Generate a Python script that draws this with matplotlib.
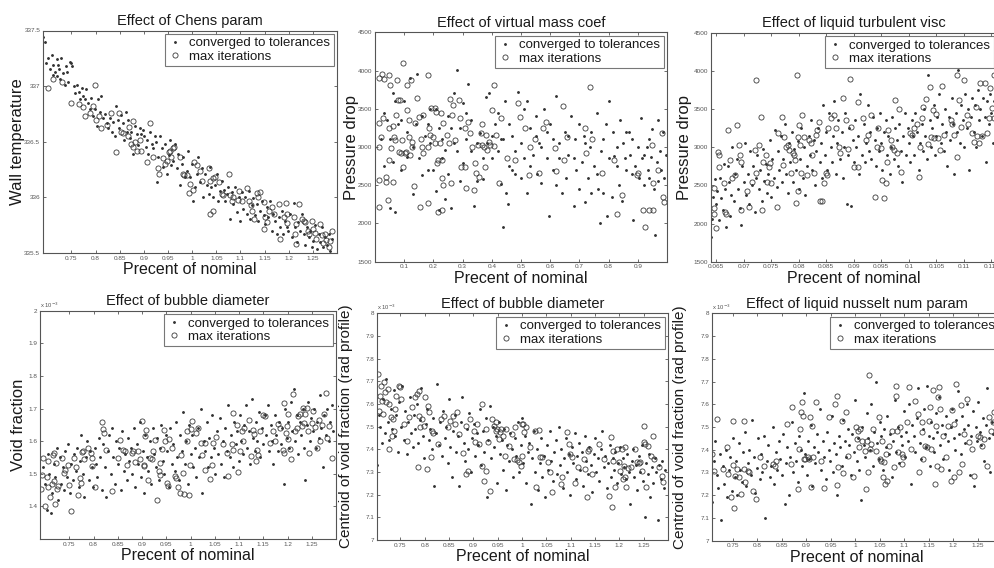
import numpy as np
import matplotlib
matplotlib.use("Agg")
import matplotlib.pyplot as plt
from matplotlib.ticker import FuncFormatter

plt.rcParams['font.family'] = ['Liberation Sans', 'DejaVu Sans']

# ---- data (x = fraction of nominal, y = response) ----

# Effect of Chens param: wall temperature
chens_conv = [
    (0.691,337.44),(0.695,337.40),(0.698,337.21),(0.702,337.25),(0.705,337.15),(0.709,337.28),(0.711,337.10),
    (0.712,337.19),(0.715,337.13),(0.719,337.09),(0.720,337.24),(0.722,337.19),(0.724,337.15),(0.726,337.06),
    (0.729,337.25),(0.733,337.12),(0.736,337.01),(0.738,337.18),(0.740,337.13),(0.743,337.04),(0.747,337.22),
    (0.750,337.21),(0.752,337.18),(0.755,337.00),(0.757,336.94),(0.762,337.01),(0.766,336.95),(0.768,336.88),
    (0.771,336.98),(0.774,336.91),(0.778,336.88),(0.781,336.97),(0.785,336.85),(0.788,336.79),(0.791,336.89),
    (0.795,336.73),(0.798,336.79),(0.802,336.64),(0.805,336.88),(0.809,336.77),(0.812,336.91),(0.816,336.71),
    (0.819,336.75),(0.823,336.67),(0.826,336.62),(0.830,336.71),(0.833,336.59),(0.836,336.68),(0.840,336.55),
    (0.843,336.82),(0.847,336.70),(0.849,336.62),(0.852,336.74),(0.856,336.67),(0.859,336.52),(0.863,336.77),
    (0.864,336.59),(0.868,336.70),(0.871,336.53),(0.874,336.59),(0.878,336.39),(0.881,336.64),(0.885,336.57),
    (0.888,336.47),(0.892,336.62),(0.895,336.57),(0.899,336.61),(0.900,336.55),(0.904,336.45),(0.907,336.52),
    (0.909,336.39),(0.913,336.59),(0.916,336.48),(0.919,336.44),(0.923,336.55),(0.926,336.50),(0.928,336.14),
    (0.930,336.36),(0.933,336.55),(0.937,336.44),(0.940,336.27),(0.944,336.48),(0.947,336.21),(0.951,336.38),
    (0.954,336.52),(0.957,336.29),(0.961,336.33),(0.964,336.48),(0.968,336.26),(0.971,336.39),(0.975,336.11),
    (0.978,336.30),(0.982,336.36),(0.985,336.18),(0.989,336.24),(0.992,336.42),(0.996,336.18),(0.999,336.30),
    (1.001,335.97),(1.006,336.09),(1.009,336.21),(1.013,336.36),(1.016,336.14),(1.020,336.26),(1.023,336.00),
    (1.027,336.21),(1.030,336.11),(1.034,336.03),(1.037,336.27),(1.040,336.09),(1.044,336.00),(1.047,336.11),
    (1.051,336.21),(1.054,335.97),(1.058,336.06),(1.061,336.15),(1.065,336.07),(1.068,335.97),(1.072,336.03),
    (1.075,336.09),(1.078,335.81),(1.082,336.05),(1.085,335.94),(1.089,336.09),(1.092,335.87),(1.096,336.00),
    (1.099,335.79),(1.103,336.05),(1.106,335.90),(1.110,336.00),(1.113,335.85),(1.117,336.06),(1.120,335.81),
    (1.124,335.93),(1.127,335.99),(1.131,335.84),(1.134,335.94),(1.137,335.79),(1.141,335.88),(1.144,335.97),
    (1.148,335.84),(1.151,335.76),(1.155,335.91),(1.158,335.82),(1.161,335.97),(1.165,335.70),(1.168,335.85),
    (1.172,335.79),(1.175,335.67),(1.179,335.82),(1.182,335.73),(1.186,335.88),(1.189,335.67),(1.193,335.79),
    (1.196,335.73),(1.199,335.70),(1.203,335.85),(1.206,335.64),(1.210,335.95),(1.213,335.73),(1.217,335.60),
    (1.220,335.78),(1.224,335.70),(1.227,335.85),(1.231,335.67),(1.234,335.57),(1.238,335.73),(1.241,335.64),
    (1.244,335.70),(1.248,335.55),(1.251,335.61),(1.255,335.75),(1.258,335.54),(1.262,335.67),(1.265,335.60),
    (1.269,335.73),(1.272,335.55),(1.276,335.64),(1.279,335.57),(1.283,335.67),(1.286,335.52),(1.290,335.63),
]
chens_maxit = [
    (0.702,336.98),(0.712,337.06),(0.731,337.04),(0.748,336.85),(0.766,336.84),(0.774,336.81),(0.778,336.73),
    (0.789,336.76),(0.798,337.01),(0.795,336.82),(0.800,336.70),(0.807,336.73),(0.811,336.62),(0.823,336.65),
    (0.831,336.76),(0.842,336.41),(0.848,336.76),(0.852,336.59),(0.857,336.58),(0.868,336.55),(0.870,336.63),
    (0.873,336.48),(0.877,336.69),(0.878,336.45),(0.881,336.50),(0.885,336.42),(0.892,336.52),(0.895,336.42),
    (0.912,336.67),(0.906,336.32),(0.919,336.36),(0.930,336.26),(0.932,336.21),(0.940,336.35),(0.944,336.30),
    (0.947,336.33),(0.951,336.41),(0.955,336.42),(0.961,336.44),(0.962,336.45),(0.957,336.36),(0.975,336.36),
    (0.980,336.21),(0.983,336.20),(0.989,336.20),(0.993,336.04),(0.996,336.12),(1.001,336.07),(1.004,336.32),
    (1.009,336.29),(1.016,336.24),(1.020,336.15),(1.034,336.26),(1.037,336.15),(1.044,336.17),(1.047,336.18),
    (1.036,335.85),(1.043,335.88),(1.056,336.14),(1.061,336.03),(1.064,336.02),(1.077,336.21),(1.078,336.02),
    (1.082,335.97),(1.085,336.00),(1.094,335.98),(1.098,336.06),(1.103,335.97),(1.113,336.08),(1.117,335.97),
    (1.121,335.93),(1.124,335.88),(1.128,335.81),(1.134,336.04),(1.137,336.00),(1.141,336.05),(1.149,335.96),
    (1.151,335.82),(1.148,335.72),(1.155,335.78),(1.160,335.88),(1.165,335.91),(1.170,335.85),(1.179,335.94),
    (1.182,335.63),(1.190,335.82),(1.195,335.95),(1.196,335.85),(1.197,335.77),(1.210,335.82),(1.215,335.76),
    (1.213,335.67),(1.215,335.58),(1.222,335.94),(1.227,335.81),(1.231,335.79),(1.234,335.78),(1.239,335.70),
    (1.243,335.67),(1.248,335.79),(1.251,335.72),(1.255,335.68),(1.257,335.63),(1.265,335.76),(1.269,335.66),
    (1.271,335.59),(1.276,335.67),(1.278,335.62),(1.283,335.55),(1.286,335.61),(1.290,335.70),
]

# Effect of virtual mass coef: pressure drop
vmass_conv = [
    (0.02,3100),(0.03,2750),(0.04,3350),(0.05,2200),(0.06,2800),(0.07,2150),(0.07,3600),(0.08,3300),(0.09,2700),
    (0.10,3600),(0.11,3200),(0.12,3900),(0.13,2380),(0.14,3300),(0.145,3950),(0.15,2850),(0.16,2640),(0.17,3150),
    (0.18,3300),(0.19,3500),(0.20,2700),(0.21,2420),(0.22,3250),(0.22,2180),(0.23,3100),(0.24,2960),(0.24,2320),
    (0.25,3400),(0.26,3250),(0.26,2200),(0.27,3700),(0.28,4010),(0.28,2950),(0.29,3250),(0.30,2790),(0.30,3580),
    (0.31,3100),(0.32,3830),(0.33,2950),(0.34,2230),(0.35,2550),(0.36,3180),(0.37,2580),(0.38,3650),(0.385,3050),
    (0.39,3700),(0.40,2850),(0.41,3300),(0.42,3450),(0.43,2520),(0.43,3100),(0.44,1960),(0.445,3600),(0.45,2400),
    (0.455,2250),(0.46,3300),(0.47,2700),(0.47,3150),(0.48,2950),(0.49,3720),(0.50,3050),(0.50,2600),(0.51,2850),
    (0.52,3600),(0.52,2400),(0.53,3250),(0.54,2900),(0.55,3400),(0.555,2650),(0.56,3050),(0.57,2530),(0.58,3500),
    (0.59,2860),(0.595,2100),(0.60,3300),(0.61,2700),(0.62,3670),(0.62,2500),(0.63,3050),(0.64,2400),(0.65,3200),
    (0.655,2600),(0.66,2900),(0.67,3400),(0.68,2230),(0.685,3100),(0.69,2700),(0.70,3300),(0.70,2450),(0.71,2800),
    (0.715,3150),(0.72,2280),(0.73,2600),(0.735,3000),(0.74,2400),(0.75,2750),(0.76,3450),(0.765,2450),(0.77,2000),
    (0.775,2950),(0.78,2400),(0.79,3300),(0.795,2100),(0.80,3600),(0.80,2850),(0.81,2350),(0.815,3200),(0.82,2880),
    (0.83,3000),(0.835,2500),(0.84,3350),(0.845,2300),(0.85,3050),(0.855,2850),(0.86,2700),(0.87,3200),(0.875,2900),
    (0.88,3100),(0.885,2050),(0.89,2750),(0.90,3000),(0.905,2600),(0.91,3380),(0.915,2850),(0.92,2500),(0.93,3000),
    (0.935,2700),(0.94,2600),(0.945,2870),(0.95,3240),(0.955,2450),(0.96,1850),(0.965,2800),(0.97,2550),(0.975,2950),
    (0.98,2700),(0.985,3200),(0.99,2600),(0.995,2900),(0.03,3450),(0.05,3100),(0.06,3700),(0.09,3350),(0.11,2870),
    (0.13,3000),(0.16,3400),(0.18,2700),(0.19,3050),(0.21,3500),(0.23,2850),(0.25,2650),(0.27,3050),(0.29,2550),
    (0.31,3450),(0.33,3350),(0.35,3050),(0.37,2850),(0.40,3150),(0.42,2950),(0.44,3100),(0.46,2750),(0.48,2650),
    (0.51,3500),(0.53,2750),(0.55,3150),(0.57,3000),(0.59,3200),(0.61,3100),(0.63,2850),(0.66,3150),(0.68,2850),
    (0.72,3050),(0.74,3200),(0.76,2650),(0.78,3100),(0.83,2750),(0.86,3200),(0.88,2650),(0.92,2900),(0.94,3100),
    (0.97,3350),
]
vmass_maxit = [
    (0.012,2220),(0.015,2570),(0.015,3000),(0.015,3310),(0.015,3900),(0.020,3135),(0.025,3960),(0.028,3375),
    (0.032,3890),(0.037,2545),(0.039,2610),(0.046,2305),(0.048,3245),(0.048,2830),(0.049,3940),(0.053,3810),
    (0.056,2985),(0.060,2545),(0.063,3270),(0.066,3135),(0.068,3090),(0.071,3420),(0.074,3880),(0.080,3615),
    (0.083,2940),(0.086,3615),(0.088,2920),(0.097,4095),(0.094,3090),(0.097,2740),(0.103,2920),(0.106,2940),
    (0.108,3810),(0.111,3485),(0.115,3135),(0.117,3350),(0.119,2900),(0.124,3880),(0.126,3000),(0.128,3070),
    (0.133,2490),(0.136,3310),(0.145,3640),(0.151,3395),(0.153,2220),(0.157,3110),(0.160,3000),(0.163,3420),
    (0.163,2920),(0.180,3940),(0.180,3000),(0.182,2265),(0.185,3245),(0.188,3160),(0.193,3510),(0.199,3135),
    (0.204,3510),(0.206,3050),(0.210,3460),(0.214,2790),(0.217,2830),(0.217,2150),(0.222,3050),(0.225,3450),
    (0.229,2590),(0.231,2170),(0.231,2830),(0.234,2505),(0.234,3310),(0.248,3160),(0.254,3050),(0.256,3625),
    (0.259,2525),(0.263,3420),(0.268,3550),(0.274,3090),(0.288,3615),(0.290,3375),(0.293,2740),(0.307,3245),
    (0.309,2740),(0.313,2470),(0.320,3330),(0.327,3180),(0.331,3000),(0.339,2440),(0.342,2795),(0.347,2655),
    (0.352,3025),(0.356,2610),(0.363,3180),(0.365,3300),(0.368,3025),(0.373,3000),(0.376,2740),(0.381,3160),
    (0.384,2960),(0.390,3070),(0.395,3025),(0.401,3485),(0.407,3010),(0.409,3810),(0.416,3160),(0.424,2535),
    (0.430,3375),(0.453,2850),(0.478,2830),(0.489,3570),(0.498,3395),(0.513,3245),(0.527,2635),(0.532,3000),
    (0.549,3110),(0.561,2655),(0.574,3245),(0.584,3330),(0.615,2985),(0.620,2680),(0.643,3530),(0.646,2830),
    (0.657,3135),(0.718,3245),(0.722,2920),(0.737,3780),(0.743,3110),(0.779,2665),(0.820,2830),(0.828,2130),
    (0.847,2370),(0.896,2635),(0.900,2655),(0.917,2175),(0.925,1960),(0.938,2175),(0.950,3025),(0.953,2175),
    (0.953,2525),(0.968,2700),(0.982,3180),(0.987,2350),(0.991,2285),
]

# Effect of liquid turbulent visc: pressure drop
turb_conv = [
    (0.0641,1830),(0.0643,2060),(0.0645,2350),(0.0648,2580),(0.0650,2250),(0.0652,2420),(0.0655,2050),(0.0657,2600),
    (0.0660,2330),(0.0662,2180),(0.0665,2780),(0.0667,2450),(0.0669,1950),(0.0672,2750),(0.0674,2550),(0.0676,2100),
    (0.0678,2380),(0.0680,3000),(0.0683,2300),(0.0685,2650),(0.0688,2850),(0.0690,2450),(0.0693,2200),(0.0695,1980),
    (0.0698,2750),(0.0700,2550),(0.0702,3050),(0.0705,2380),(0.0708,2650),(0.0710,2250),(0.0712,2950),(0.0715,2500),
    (0.0718,2750),(0.0720,2150),(0.0722,2600),(0.0725,2900),(0.0728,2450),(0.0730,2700),(0.0733,2300),(0.0735,2980),
    (0.0738,2560),(0.0740,2780),(0.0743,2400),(0.0745,2650),(0.0748,3100),(0.0750,2350),(0.0752,2850),(0.0755,2600),
    (0.0757,3230),(0.0760,2480),(0.0762,2950),(0.0765,2700),(0.0768,3150),(0.0770,2550),(0.0772,2850),(0.0775,3300),
    (0.0778,2650),(0.0780,2400),(0.0782,3050),(0.0785,2800),(0.0788,3200),(0.0790,2550),(0.0792,2980),(0.0795,2700),
    (0.0798,3080),(0.0800,2450),(0.0802,2850),(0.0805,3250),(0.0808,2600),(0.0810,3000),(0.0812,2380),(0.0815,2750),
    (0.0818,3150),(0.0820,2900),(0.0822,3350),(0.0825,2700),(0.0828,3100),(0.0830,2500),(0.0832,2950),(0.0835,3250),
    (0.0838,2800),(0.0840,3050),(0.0842,2600),(0.0845,3550),(0.0848,2900),(0.0850,3200),(0.0852,2700),(0.0855,3450),
    (0.0858,3000),(0.0860,2800),(0.0862,3150),(0.0865,3600),(0.0868,2650),(0.0870,3050),(0.0872,3350),(0.0875,2850),
    (0.0878,3200),(0.0880,2600),(0.0882,3000),(0.0885,3450),(0.0888,2250),(0.0890,2900),(0.0892,3250),(0.0895,2230),
    (0.0898,3100),(0.0900,2800),(0.0902,3350),(0.0905,3000),(0.0908,3150),(0.0910,2650),(0.0912,3700),(0.0915,2900),
    (0.0918,3300),(0.0920,2800),(0.0922,3050),(0.0925,3550),(0.0928,2950),(0.0930,3200),(0.0932,2850),(0.0935,3400),
    (0.0938,3100),(0.0940,2750),(0.0942,3250),(0.0945,2950),(0.0948,3450),(0.0950,3050),(0.0952,2700),(0.0955,3200),
    (0.0958,3350),(0.0960,2900),(0.0963,3150),(0.0965,2650),(0.0968,3000),(0.0970,3400),(0.0973,2850),(0.0975,3250),
    (0.0978,3100),(0.0980,2750),(0.0982,3300),(0.0985,2950),(0.0988,2550),(0.0990,3150),(0.0993,3450),(0.0995,2900),
    (0.0998,3250),(0.1000,3050),(0.1003,2800),(0.1005,3350),(0.1008,3150),(0.1010,2900),(0.1012,3450),(0.1015,3200),
    (0.1018,2700),(0.1020,3050),(0.1023,3300),(0.1025,2950),(0.1028,3500),(0.1030,3150),(0.1033,2850),(0.1035,3950),
    (0.1038,3350),(0.1040,3000),(0.1042,3250),(0.1045,3550),(0.1048,2900),(0.1050,3150),(0.1052,3400),(0.1055,3700),
    (0.1058,3050),(0.1060,3300),(0.1063,2950),(0.1065,3500),(0.1068,3200),(0.1070,2750),(0.1072,3400),(0.1075,3100),
    (0.1078,3650),(0.1080,3300),(0.1082,2650),(0.1085,3450),(0.1088,3200),(0.1090,4010),(0.1092,3050),(0.1095,3550),
    (0.1098,3350),(0.1100,3000),(0.1102,3700),(0.1105,3250),(0.1108,3500),(0.1110,2700),(0.1112,3400),(0.1115,3650),
    (0.1118,3200),(0.1120,3550),(0.1122,3000),(0.1125,3750),(0.1128,3350),(0.1130,3500),(0.1132,3150),(0.1135,3650),
    (0.1138,3400),(0.1140,2800),(0.1142,3600),(0.1145,3300),(0.1148,3700),(0.1150,3450),(0.1152,3050),(0.1155,3600),
]
turb_maxit = [
    (0.0646,2460),(0.0646,2200),(0.0647,2130),(0.0650,1940),(0.0654,2940),(0.0656,2900),(0.0656,2740),(0.0664,2530),
    (0.0666,2155),(0.0668,2130),(0.0671,3225),(0.0676,2830),(0.0680,2590),(0.0684,2635),(0.0688,3290),(0.0692,3030),
    (0.0694,2900),(0.0695,2810),(0.0695,2175),(0.0707,2420),(0.0710,2220),(0.0716,2550),(0.0721,2960),(0.0722,2660),
    (0.0722,3880),(0.0729,3030),(0.0732,3400),(0.0733,2175),(0.0736,2810),(0.0741,2900),(0.0742,2550),(0.0747,2740),
    (0.0748,2790),(0.0749,2530),(0.0761,2220),(0.0762,3180),(0.0769,3400),(0.0771,2770),(0.0774,3140),(0.0777,3005),
    (0.0780,3030),(0.0783,2960),(0.0786,2660),(0.0789,2920),(0.0791,2900),(0.0793,2830),(0.0795,2265),(0.0797,3945),
    (0.0798,2420),(0.0799,3140),(0.0801,3290),(0.0803,3030),(0.0804,2660),(0.0807,3420),(0.0809,3140),(0.0816,2635),
    (0.0819,3095),(0.0822,3050),(0.0825,2900),(0.0828,2660),(0.0831,3160),(0.0834,3225),(0.0837,3335),(0.0839,2290),
    (0.0843,2290),(0.0846,2530),(0.0849,2660),(0.0851,2635),(0.0854,3245),(0.0858,3380),(0.0864,3420),(0.0867,3245),
    (0.0873,3005),(0.0876,2920),(0.0881,3640),(0.0886,3350),(0.0889,2970),(0.0893,3890),(0.0895,3270),(0.0901,2745),
    (0.0908,2745),(0.0908,3595),(0.0916,3380),(0.0922,3095),(0.0926,3160),(0.0932,3420),(0.0938,2350),(0.0942,3005),
    (0.0944,3245),(0.0949,2985),(0.0952,2570),(0.0955,2330),(0.0958,2525),(0.0960,2810),(0.0962,3225),(0.0967,3095),
    (0.0970,3005),(0.0973,2960),(0.0974,3615),(0.0979,2920),(0.0982,3495),(0.0985,2680),(0.1002,3180),(0.1006,3160),
    (0.1010,3245),(0.1015,3310),(0.1018,2615),(0.1021,3005),(0.1023,3380),(0.1025,3530),(0.1031,3625),(0.1034,3040),
    (0.1038,3790),(0.1040,3140),(0.1044,3485),(0.1046,3115),(0.1050,3440),(0.1053,3115),(0.1057,2960),(0.1061,3800),
    (0.1063,3160),(0.1076,3355),(0.1079,3310),(0.1082,3160),(0.1087,2875),(0.1088,3945),(0.1091,3615),(0.1094,3270),
    (0.1100,3880),(0.1106,3420),(0.1108,3310),(0.1115,3180),(0.1118,3070),(0.1121,3530),(0.1124,3150),(0.1127,3050),
    (0.1130,3840),(0.1133,3150),(0.1139,3840),(0.1141,3180),(0.1145,3380),(0.1148,3770),(0.1151,3510),(0.1154,3945),
    (0.1154,3380),
]

# Effect of bubble diameter: void fraction (x 1e-3)
void_conv = [
    (0.695,1.52),(0.700,1.47),(0.703,1.39),(0.706,1.56),(0.709,1.50),(0.712,1.38),(0.715,1.44),(0.718,1.53),(0.721,1.49),
    (0.724,1.58),(0.727,1.42),(0.730,1.55),(0.733,1.47),(0.736,1.52),(0.739,1.45),(0.742,1.57),(0.745,1.49),(0.748,1.59),
    (0.751,1.44),(0.754,1.53),(0.757,1.48),(0.760,1.56),(0.763,1.51),(0.766,1.58),(0.769,1.46),(0.772,1.54),(0.775,1.62),
    (0.778,1.50),(0.781,1.43),(0.784,1.55),(0.787,1.60),(0.790,1.48),(0.793,1.57),(0.796,1.52),(0.799,1.46),(0.802,1.58),
    (0.805,1.53),(0.808,1.49),(0.811,1.61),(0.814,1.55),(0.817,1.45),(0.820,1.59),(0.823,1.52),(0.826,1.43),(0.829,1.57),
    (0.832,1.62),(0.835,1.50),(0.838,1.64),(0.841,1.55),(0.844,1.47),(0.847,1.60),(0.850,1.53),(0.853,1.58),(0.856,1.45),
    (0.859,1.63),(0.862,1.51),(0.865,1.56),(0.868,1.48),(0.871,1.61),(0.874,1.54),(0.877,1.58),(0.880,1.50),(0.883,1.64),
    (0.886,1.46),(0.889,1.59),(0.892,1.53),(0.895,1.66),(0.898,1.49),(0.901,1.57),(0.904,1.44),(0.907,1.62),(0.910,1.55),
    (0.913,1.51),(0.916,1.60),(0.919,1.47),(0.922,1.64),(0.925,1.56),(0.928,1.52),(0.931,1.61),(0.934,1.48),(0.937,1.58),
    (0.940,1.65),(0.943,1.54),(0.946,1.50),(0.949,1.62),(0.952,1.57),(0.955,1.46),(0.958,1.64),(0.961,1.53),(0.964,1.59),
    (0.967,1.51),(0.970,1.66),(0.973,1.55),(0.976,1.48),(0.979,1.62),(0.982,1.57),(0.985,1.69),(0.988,1.53),(0.991,1.60),
    (0.994,1.47),(0.997,1.65),(1.000,1.56),(1.003,1.62),(1.006,1.52),(1.009,1.58),(1.012,1.49),(1.015,1.64),(1.018,1.55),
    (1.021,1.70),(1.024,1.44),(1.027,1.60),(1.030,1.57),(1.033,1.66),(1.036,1.52),(1.039,1.61),(1.042,1.55),(1.045,1.68),
    (1.048,1.58),(1.051,1.50),(1.054,1.63),(1.057,1.56),(1.060,1.67),(1.063,1.53),(1.066,1.60),(1.069,1.49),(1.072,1.64),
    (1.075,1.57),(1.078,1.71),(1.081,1.55),(1.084,1.62),(1.087,1.52),(1.090,1.66),(1.093,1.59),(1.096,1.63),(1.099,1.54),
    (1.102,1.68),(1.105,1.60),(1.108,1.56),(1.111,1.65),(1.114,1.71),(1.117,1.58),(1.120,1.63),(1.123,1.53),(1.126,1.73),
    (1.129,1.61),(1.132,1.57),(1.135,1.66),(1.138,1.60),(1.141,1.69),(1.144,1.55),(1.147,1.64),(1.150,1.59),(1.153,1.68),
    (1.156,1.62),(1.159,1.71),(1.162,1.57),(1.165,1.65),(1.168,1.60),(1.171,1.53),(1.174,1.68),(1.177,1.62),(1.180,1.57),
    (1.183,1.66),(1.186,1.59),(1.189,1.64),(1.192,1.47),(1.195,1.70),(1.198,1.61),(1.201,1.66),(1.204,1.58),(1.207,1.72),
    (1.210,1.63),(1.213,1.76),(1.216,1.60),(1.219,1.68),(1.222,1.56),(1.225,1.66),(1.228,1.62),(1.231,1.70),(1.234,1.58),
    (1.237,1.48),(1.240,1.65),(1.243,1.72),(1.246,1.60),(1.249,1.67),(1.252,1.63),(1.255,1.70),(1.258,1.58),(1.261,1.66),
    (1.264,1.61),(1.267,1.74),(1.270,1.64),(1.273,1.52),(1.276,1.68),(1.279,1.62),(1.282,1.70),(1.285,1.60),(1.288,1.66),
    (1.291,1.71),(1.294,1.63),
]
void_maxit = [
    (0.691,1.454),(0.693,1.497),(0.695,1.549),(0.700,1.400),(0.703,1.489),(0.707,1.538),(0.707,1.458),(0.710,1.428),
    (0.714,1.469),(0.717,1.559),(0.718,1.564),(0.719,1.479),(0.720,1.407),(0.722,1.533),(0.724,1.454),(0.727,1.462),
    (0.734,1.547),(0.738,1.503),(0.741,1.513),(0.748,1.528),(0.750,1.467),(0.753,1.387),(0.760,1.549),(0.764,1.520),
    (0.767,1.434),(0.772,1.487),(0.775,1.472),(0.776,1.567),(0.779,1.571),(0.780,1.544),(0.789,1.579),(0.794,1.564),
    (0.796,1.549),(0.796,1.523),(0.803,1.458),(0.817,1.659),(0.820,1.636),(0.822,1.626),(0.826,1.574),(0.837,1.446),
    (0.851,1.549),(0.854,1.605),(0.861,1.574),(0.865,1.569),(0.868,1.528),(0.879,1.564),(0.881,1.569),(0.885,1.536),
    (0.892,1.571),(0.896,1.544),(0.899,1.661),(0.903,1.528),(0.904,1.523),(0.906,1.615),(0.909,1.633),(0.913,1.482),
    (0.916,1.549),(0.920,1.544),(0.923,1.569),(0.927,1.605),(0.930,1.421),(0.934,1.508),(0.937,1.495),(0.938,1.533),
    (0.942,1.577),(0.945,1.633),(0.947,1.600),(0.951,1.472),(0.954,1.462),(0.956,1.608),(0.961,1.579),(0.967,1.492),
    (0.971,1.487),(0.975,1.458),(0.978,1.441),(0.980,1.559),(0.984,1.503),(0.987,1.438),(0.992,1.600),(0.993,1.631),
    (0.996,1.436),(0.998,1.528),(1.000,1.636),(1.002,1.662),(1.011,1.626),(1.016,1.641),(1.022,1.595),(1.023,1.559),
    (1.030,1.513),(1.030,1.593),(1.040,1.485),(1.044,1.528),(1.047,1.595),(1.053,1.612),(1.066,1.590),(1.075,1.564),
    (1.078,1.492),(1.085,1.590),(1.087,1.574),(1.088,1.687),(1.095,1.649),(1.097,1.505),(1.101,1.569),(1.106,1.631),
    (1.109,1.600),(1.111,1.639),(1.121,1.665),(1.124,1.554),(1.128,1.633),(1.130,1.621),(1.134,1.538),(1.137,1.574),
    (1.140,1.557),(1.143,1.631),(1.149,1.679),(1.154,1.677),(1.164,1.595),(1.171,1.631),(1.174,1.600),(1.181,1.653),
    (1.185,1.641),(1.190,1.574),(1.192,1.718),(1.193,1.564),(1.197,1.626),(1.198,1.646),(1.200,1.682),(1.202,1.608),
    (1.205,1.577),(1.207,1.546),(1.212,1.744),(1.216,1.631),(1.220,1.641),(1.222,1.677),(1.226,1.684),(1.229,1.646),
    (1.231,1.703),(1.234,1.656),(1.236,1.682),(1.240,1.703),(1.243,1.631),(1.245,1.564),(1.250,1.656),(1.253,1.692),
    (1.257,1.643),(1.260,1.579),(1.264,1.664),(1.267,1.600),(1.271,1.651),(1.275,1.682),(1.280,1.749),(1.281,1.610),
    (1.286,1.646),(1.291,1.549),
]

# Effect of bubble diameter: centroid of void fraction (x 1e-3)
bub_conv = [
    (0.703,7.33),(0.706,7.55),(0.709,7.50),(0.712,7.43),(0.715,7.62),(0.718,7.47),(0.721,7.71),(0.724,7.52),(0.727,7.44),
    (0.730,7.58),(0.733,7.49),(0.736,7.66),(0.739,7.46),(0.742,7.55),(0.745,7.39),(0.748,7.61),(0.751,7.50),(0.754,7.68),
    (0.757,7.44),(0.760,7.57),(0.763,7.38),(0.766,7.52),(0.769,7.63),(0.772,7.47),(0.775,7.41),(0.778,7.55),(0.781,7.49),
    (0.784,7.60),(0.787,7.43),(0.790,7.53),(0.793,7.67),(0.796,7.46),(0.799,7.36),(0.802,7.51),(0.805,7.58),(0.808,7.44),
    (0.811,7.49),(0.814,7.40),(0.817,7.54),(0.820,7.24),(0.823,7.47),(0.826,7.69),(0.829,7.42),(0.832,7.52),(0.835,7.37),
    (0.838,7.57),(0.841,7.45),(0.844,7.50),(0.847,7.34),(0.850,7.62),(0.853,7.41),(0.856,7.28),(0.859,7.48),(0.862,7.55),
    (0.865,7.39),(0.868,7.46),(0.871,7.24),(0.874,7.52),(0.877,7.63),(0.880,7.43),(0.883,7.35),(0.886,7.49),(0.889,7.40),
    (0.892,7.56),(0.895,7.30),(0.898,7.45),(0.901,7.51),(0.904,7.37),(0.907,7.47),(0.910,7.42),(0.913,7.58),(0.916,7.33),
    (0.919,7.48),(0.922,7.39),(0.925,7.54),(0.928,7.19),(0.931,7.44),(0.934,7.59),(0.937,7.36),(0.940,7.50),(0.943,7.41),
    (0.946,7.46),(0.949,7.25),(0.952,7.52),(0.955,7.38),(0.958,7.44),(0.961,7.31),(0.964,7.49),(0.967,7.22),(0.970,7.42),
    (0.973,7.35),(0.976,7.47),(0.979,7.40),(0.982,7.28),(0.985,7.45),(0.988,7.37),(0.991,7.52),(0.994,7.30),(0.997,7.42),
    (1.000,7.54),(1.003,7.34),(1.006,7.46),(1.009,7.25),(1.012,7.39),(1.015,7.43),(1.018,7.16),(1.021,7.36),(1.024,7.48),
    (1.027,7.30),(1.030,7.40),(1.033,7.22),(1.036,7.34),(1.039,7.45),(1.042,7.28),(1.045,7.37),(1.048,7.19),(1.051,7.42),
    (1.054,7.31),(1.057,7.48),(1.060,7.35),(1.063,7.26),(1.066,7.39),(1.069,7.44),(1.072,7.29),(1.075,7.50),(1.078,7.33),
    (1.081,7.40),(1.084,7.23),(1.087,7.36),(1.090,7.45),(1.093,7.30),(1.096,7.38),(1.099,7.20),(1.102,7.41),(1.105,7.34),
    (1.108,7.47),(1.111,7.27),(1.114,7.37),(1.117,7.43),(1.120,7.31),(1.123,7.39),(1.126,7.24),(1.129,7.46),(1.132,7.35),
    (1.135,7.29),(1.138,7.41),(1.141,7.33),(1.144,7.21),(1.147,7.38),(1.150,7.45),(1.153,7.30),(1.156,7.36),(1.159,7.26),
    (1.162,7.40),(1.165,7.48),(1.168,7.32),(1.171,7.37),(1.174,7.23),(1.177,7.34),(1.180,7.42),(1.183,7.28),(1.186,7.36),
    (1.189,7.31),(1.192,7.39),(1.195,7.25),(1.198,7.34),(1.201,7.41),(1.204,7.29),(1.207,7.36),(1.210,7.32),(1.213,7.27),
    (1.216,7.38),(1.219,7.30),(1.222,7.16),(1.225,7.35),(1.228,7.40),(1.231,7.28),(1.234,7.33),(1.237,7.22),(1.240,7.37),
    (1.243,7.30),(1.246,7.42),(1.249,7.26),(1.252,7.10),(1.255,7.34),(1.258,7.29),(1.261,7.38),(1.264,7.19),(1.267,7.32),
    (1.270,7.25),(1.273,7.36),(1.276,7.30),(1.279,7.09),(1.282,7.33),(1.285,7.27),(1.288,7.35),(1.291,7.23),(1.294,7.31),
]
bub_maxit = [
    (0.705,7.732),(0.706,7.571),(0.708,7.637),(0.711,7.681),(0.713,7.615),(0.715,7.556),(0.717,7.696),(0.719,7.651),
    (0.720,7.607),(0.724,7.666),(0.726,7.401),(0.727,7.600),(0.731,7.541),(0.733,7.460),(0.734,7.534),(0.736,7.482),
    (0.738,7.578),(0.741,7.637),(0.747,7.681),(0.750,7.674),(0.752,7.622),(0.757,7.512),(0.764,7.438),(0.767,7.541),
    (0.774,7.585),(0.781,7.629),(0.784,7.644),(0.786,7.321),(0.789,7.659),(0.789,7.549),(0.791,7.497),(0.795,7.534),
    (0.798,7.504),(0.801,7.629),(0.805,7.313),(0.807,7.593),(0.809,7.563),(0.812,7.368),(0.815,7.482),(0.818,7.471),
    (0.827,7.424),(0.834,7.534),(0.839,7.549),(0.848,7.497),(0.851,7.526),(0.858,7.549),(0.862,7.512),(0.867,7.563),
    (0.870,7.468),(0.878,7.382),(0.884,7.504),(0.885,7.291),(0.890,7.306),(0.894,7.534),(0.901,7.482),(0.903,7.431),
    (0.908,7.512),(0.911,7.424),(0.917,7.328),(0.918,7.600),(0.921,7.262),(0.925,7.490),(0.926,7.306),(0.930,7.431),
    (0.935,7.218),(0.939,7.534),(0.942,7.504),(0.946,7.519),(0.947,7.482),(0.949,7.490),(0.952,7.446),(0.954,7.475),
    (0.956,7.490),(0.961,7.460),(0.965,7.372),(0.967,7.490),(0.973,7.416),(0.979,7.468),(0.983,7.357),(0.986,7.497),
    (0.990,7.353),(0.993,7.343),(0.997,7.328),(1.000,7.512),(1.001,7.372),(1.003,7.512),(1.005,7.475),(1.008,7.500),
    (1.017,7.409),(1.026,7.482),(1.029,7.232),(1.035,7.485),(1.037,7.368),(1.041,7.365),(1.053,7.343),(1.058,7.299),
    (1.062,7.210),(1.082,7.276),(1.080,7.247),(1.092,7.475),(1.097,7.424),(1.099,7.379),(1.103,7.365),(1.108,7.250),
    (1.115,7.321),(1.127,7.357),(1.129,7.313),(1.133,7.188),(1.135,7.394),(1.138,7.401),(1.144,7.291),(1.158,7.424),
    (1.168,7.357),(1.179,7.196),(1.182,7.453),(1.185,7.147),(1.186,7.394),(1.188,7.350),(1.192,7.232),(1.195,7.401),
    (1.199,7.343),(1.202,7.306),(1.205,7.401),(1.207,7.269),(1.209,7.328),(1.211,7.409),(1.212,7.279),(1.214,7.232),
    (1.218,7.318),(1.223,7.321),(1.233,7.401),(1.236,7.343),(1.240,7.338),(1.243,7.343),(1.247,7.306),(1.250,7.504),
    (1.250,7.431),(1.253,7.424),(1.255,7.232),(1.259,7.416),(1.265,7.372),(1.270,7.460),(1.272,7.357),(1.281,7.321),
    (1.288,7.284),(1.289,7.254),
]

# Effect of liquid nusselt num param: centroid of void fraction (x 1e-3)
nus_conv = [
    (0.703,7.26),(0.706,7.42),(0.709,7.17),(0.712,7.35),(0.715,7.44),(0.718,7.29),(0.721,7.23),(0.724,7.38),(0.727,7.09),
    (0.730,7.33),(0.733,7.25),(0.736,7.40),(0.739,7.19),(0.742,7.31),(0.745,7.37),(0.748,7.22),(0.751,7.45),(0.754,7.28),
    (0.757,7.35),(0.760,7.20),(0.763,7.43),(0.766,7.31),(0.769,7.26),(0.772,7.39),(0.775,7.48),(0.778,7.24),(0.781,7.34),
    (0.784,7.40),(0.787,7.29),(0.790,7.53),(0.793,7.37),(0.796,7.21),(0.799,7.32),(0.802,7.45),(0.805,7.27),(0.808,7.38),
    (0.811,7.30),(0.814,7.46),(0.817,7.10),(0.820,7.35),(0.823,7.42),(0.826,7.28),(0.829,7.33),(0.832,7.50),(0.835,7.25),
    (0.838,7.39),(0.841,7.31),(0.844,7.44),(0.847,7.36),(0.850,7.29),(0.853,7.47),(0.856,7.16),(0.859,7.34),(0.862,7.41),
    (0.865,7.20),(0.868,7.37),(0.871,7.52),(0.874,7.30),(0.877,7.43),(0.880,7.35),(0.883,7.26),(0.886,7.46),(0.889,7.40),
    (0.892,7.33),(0.895,7.65),(0.898,7.38),(0.901,7.29),(0.904,7.44),(0.907,7.36),(0.910,7.51),(0.913,7.24),(0.916,7.41),
    (0.919,7.34),(0.922,7.47),(0.925,7.39),(0.928,7.58),(0.931,7.31),(0.934,7.44),(0.937,7.37),(0.940,7.27),(0.943,7.48),
    (0.946,7.40),(0.949,7.35),(0.952,7.55),(0.955,7.30),(0.958,7.43),(0.961,7.38),(0.964,7.20),(0.967,7.46),(0.970,7.41),
    (0.973,7.33),(0.976,7.53),(0.979,7.44),(0.982,7.37),(0.985,7.49),(0.988,7.42),(0.991,7.29),(0.994,7.47),(0.997,7.39),
    (1.000,7.62),(1.003,7.35),(1.006,7.45),(1.009,7.31),(1.012,7.18),(1.015,7.50),(1.018,7.42),(1.021,7.37),(1.024,7.56),
    (1.027,7.45),(1.030,7.40),(1.033,7.60),(1.036,7.33),(1.039,7.48),(1.042,7.70),(1.045,7.43),(1.048,7.36),(1.051,7.52),
    (1.054,7.46),(1.057,7.31),(1.060,7.49),(1.063,7.41),(1.066,7.55),(1.069,7.38),(1.072,7.47),(1.075,7.28),(1.078,7.44),
    (1.081,7.62),(1.084,7.39),(1.087,7.50),(1.090,7.34),(1.093,7.46),(1.096,7.42),(1.099,7.57),(1.102,7.37),(1.105,7.48),
    (1.108,7.44),(1.111,7.60),(1.114,7.25),(1.117,7.51),(1.120,7.46),(1.123,7.39),(1.126,7.54),(1.129,7.67),(1.132,7.43),
    (1.135,7.36),(1.138,7.49),(1.141,7.58),(1.144,7.41),(1.147,7.68),(1.150,7.46),(1.153,7.33),(1.156,7.52),(1.159,7.45),
    (1.162,7.39),(1.165,7.56),(1.168,7.48),(1.171,7.63),(1.174,7.42),(1.177,7.51),(1.180,7.36),(1.183,7.47),(1.186,7.55),
    (1.189,7.44),(1.192,7.31),(1.195,7.50),(1.198,7.58),(1.201,7.45),(1.204,7.40),(1.207,7.53),(1.210,7.66),(1.213,7.47),
    (1.216,7.38),(1.219,7.55),(1.222,7.49),(1.225,7.43),(1.228,7.60),(1.231,7.51),(1.234,7.29),(1.237,7.46),(1.240,7.57),
    (1.243,7.24),(1.246,7.50),(1.249,7.44),(1.252,7.61),(1.255,7.48),(1.258,7.42),(1.261,7.54),(1.264,7.35),(1.267,7.51),
    (1.270,7.67),(1.273,7.45),(1.276,7.30),(1.279,7.52),(1.282,7.47),(1.285,7.58),(1.288,7.40),(1.291,7.53),
]
nus_maxit = [
    (0.709,7.381),(0.713,7.305),(0.719,7.535),(0.730,7.315),(0.738,7.411),(0.741,7.293),(0.746,7.194),(0.750,7.528),
    (0.750,7.333),(0.752,7.142),(0.754,7.286),(0.760,7.315),(0.764,7.279),(0.767,7.205),(0.773,7.528),(0.774,7.315),
    (0.775,7.257),(0.781,7.305),(0.784,7.301),(0.791,7.220),(0.798,7.183),(0.805,7.367),(0.815,7.330),(0.832,7.337),
    (0.836,7.330),(0.839,7.349),(0.862,7.513),(0.869,7.337),(0.872,7.589),(0.883,7.227),(0.886,7.403),(0.888,7.491),
    (0.889,7.565),(0.891,7.609),(0.893,7.550),(0.895,7.359),(0.898,7.359),(0.903,7.367),(0.906,7.359),(0.908,7.542),
    (0.910,7.235),(0.913,7.506),(0.915,7.367),(0.920,7.609),(0.930,7.352),(0.936,7.232),(0.947,7.542),(0.959,7.601),
    (0.963,7.243),(0.964,7.638),(0.966,7.326),(0.973,7.528),(0.976,7.296),(0.981,7.565),(0.986,7.374),(0.995,7.279),
    (1.001,7.499),(1.003,7.447),(1.006,7.484),(1.008,7.413),(1.010,7.491),(1.015,7.440),(1.020,7.396),(1.022,7.227),
    (1.024,7.440),(1.026,7.301),(1.028,7.730),(1.030,7.403),(1.033,7.425),(1.036,7.491),(1.042,7.396),(1.048,7.542),
    (1.051,7.359),(1.053,7.352),(1.056,7.440),(1.058,7.279),(1.060,7.344),(1.062,7.249),(1.064,7.381),(1.066,7.264),
    (1.069,7.418),(1.076,7.484),(1.079,7.323),(1.083,7.682),(1.084,7.638),(1.086,7.484),(1.088,7.389),(1.091,7.499),
    (1.095,7.337),(1.096,7.381),(1.098,7.370),(1.106,7.521),(1.110,7.674),(1.115,7.403),(1.123,7.616),(1.129,7.557),
    (1.131,7.301),(1.136,7.521),(1.137,7.477),(1.139,7.359),(1.143,7.418),(1.146,7.411),(1.150,7.528),(1.153,7.589),
    (1.155,7.403),(1.160,7.663),(1.164,7.249),(1.165,7.506),(1.167,7.330),(1.170,7.630),(1.172,7.674),(1.173,7.579),
    (1.176,7.315),(1.180,7.462),(1.185,7.367),(1.190,7.506),(1.196,7.264),(1.197,7.575),(1.201,7.282),(1.203,7.513),
    (1.207,7.689),(1.212,7.301),(1.216,7.598),(1.218,7.337),(1.223,7.469),(1.228,7.623),(1.232,7.433),(1.238,7.403),
    (1.242,7.286),(1.250,7.462),(1.255,7.455),(1.260,7.418),(1.264,7.447),(1.269,7.330),(1.273,7.542),(1.277,7.484),
    (1.281,7.521),(1.284,7.565),
]

titles = ['Effect of Chens param', 'Effect of virtual mass coef', 'Effect of liquid turbulent visc',
          'Effect of bubble diameter', 'Effect of bubble diameter', 'Effect of liquid nusselt num param']
ylabels = ['Wall temperature', 'Pressure drop', 'Pressure drop',
           'Void fraction', 'Centroid of void fraction (rad profile)', 'Centroid of void fraction (rad profile)']
xlabel = 'Precent of nominal'
legend_labels = ['converged to tolerances', 'max iterations']

frac_ticks = [0.75, 0.8, 0.85, 0.9, 0.95, 1, 1.05, 1.1, 1.15, 1.2, 1.25]
xticks = [frac_ticks, [0.1, 0.2, 0.3, 0.4, 0.5, 0.6, 0.7, 0.8, 0.9],
          [0.065, 0.07, 0.075, 0.08, 0.085, 0.09, 0.095, 0.1, 0.105, 0.11, 0.115],
          frac_ticks, frac_ticks, frac_ticks]
yticks = [[335.5, 336, 336.5, 337, 337.5], [1500, 2000, 2500, 3000, 3500, 4000, 4500],
          [1500, 2000, 2500, 3000, 3500, 4000, 4500],
          [1.4, 1.5, 1.6, 1.7, 1.8, 1.9, 2.0], [7, 7.1, 7.2, 7.3, 7.4, 7.5, 7.6, 7.7, 7.8, 7.9, 8],
          [7, 7.1, 7.2, 7.3, 7.4, 7.5, 7.6, 7.7, 7.8, 7.9, 8]]
xlims = [(0.691, 1.30), (0.0, 1.0), (0.0641, 0.1160), (0.6895, 1.30), (0.702, 1.30), (0.708, 1.30)]
ylims = [(335.5, 337.5), (1500, 4500), (1500, 4500), (1.3, 2.0), (7.0, 8.0), (7.0, 8.0)]
scaled = [False, False, False, True, True, True]   # values stored in units of 1e-3

series = [(chens_conv, chens_maxit), (vmass_conv, vmass_maxit), (turb_conv, turb_maxit),
          (void_conv, void_maxit), (bub_conv, bub_maxit), (nus_conv, nus_maxit)]

# axes boxes in pixels: left, top, right, bottom (right column runs past the edge)
W, H = 995, 568
boxes = [(43, 30.5, 337, 253), (375, 32.3, 667, 261.7), (711, 32.7, 997, 261.7),
         (40, 310.7, 336, 539), (377, 313.3, 668, 540), (712, 313.3, 1002, 540.7)]
# right edge of the rotated y label, in axes fraction
ylab_x = [-0.061, -0.055, -0.066, -0.047, -0.082, -0.086]

fig = plt.figure(figsize=(W / 100, H / 100), dpi=100)
fig.patch.set_facecolor('white')
edge = '#555555'

for i in range(6):
    l, t, r, b = boxes[i]
    ax = fig.add_axes([l / W, 1 - b / H, (r - l) / W, (b - t) / H])
    conv = np.array(series[i][0])
    maxit = np.array(series[i][1])
    k = 1e-3 if scaled[i] else 1.0
    ax.plot(conv[:, 0], conv[:, 1] * k, linestyle='none', marker='.', ms=2.1,
            color='#333333', label=legend_labels[0])
    ax.plot(maxit[:, 0], maxit[:, 1] * k, linestyle='none', marker='o', ms=3.7,
            mfc='none', mec='#3a3a3a', mew=0.6, label=legend_labels[1])
    ax.set_xlim(*xlims[i])
    ax.set_ylim(ylims[i][0] * k, ylims[i][1] * k)
    ax.set_xticks(xticks[i])
    ax.set_yticks([v * k for v in yticks[i]])
    ax.xaxis.set_major_formatter(FuncFormatter(lambda v, p: f'{v:g}'))
    if scaled[i]:
        ax.yaxis.set_major_formatter(FuncFormatter(lambda v, p: f'{v * 1e3:g}'))
        ax.text(0.0, 1.005, r'x 10$^{-3}$', transform=ax.transAxes, fontsize=4.2,
                color='#555555', ha='left', va='bottom')
    else:
        ax.yaxis.set_major_formatter(FuncFormatter(lambda v, p: f'{v:g}'))
    ax.tick_params(direction='in', length=2.5, width=0.6, color=edge, labelsize=4.6,
                   labelcolor='#555555', top=True, right=True, pad=2)
    for s in ax.spines.values():
        s.set_color(edge)
        s.set_linewidth(0.8)
    ax.set_title(titles[i], fontsize=10.5, pad=4, color='#1a1a1a')
    ax.set_xlabel(xlabel, fontsize=11.5, labelpad=1, color='#1a1a1a')
    ax.set_ylabel(ylabels[i], fontsize=12 if i < 4 else 11, color='#1a1a1a')
    ax.yaxis.set_label_coords(ylab_x[i], 0.5)
    leg = ax.legend(loc='upper right', fontsize=9.5, frameon=True, fancybox=False,
                    borderaxespad=0.25, handlelength=1.0, handletextpad=0.6,
                    borderpad=0.25, labelspacing=0.1, markerscale=1.0)
    leg.get_frame().set_edgecolor(edge)
    leg.get_frame().set_linewidth(0.8)
    for txt in leg.get_texts():
        txt.set_color('#1a1a1a')

fig.savefig('out.png', dpi=100, facecolor='white')
